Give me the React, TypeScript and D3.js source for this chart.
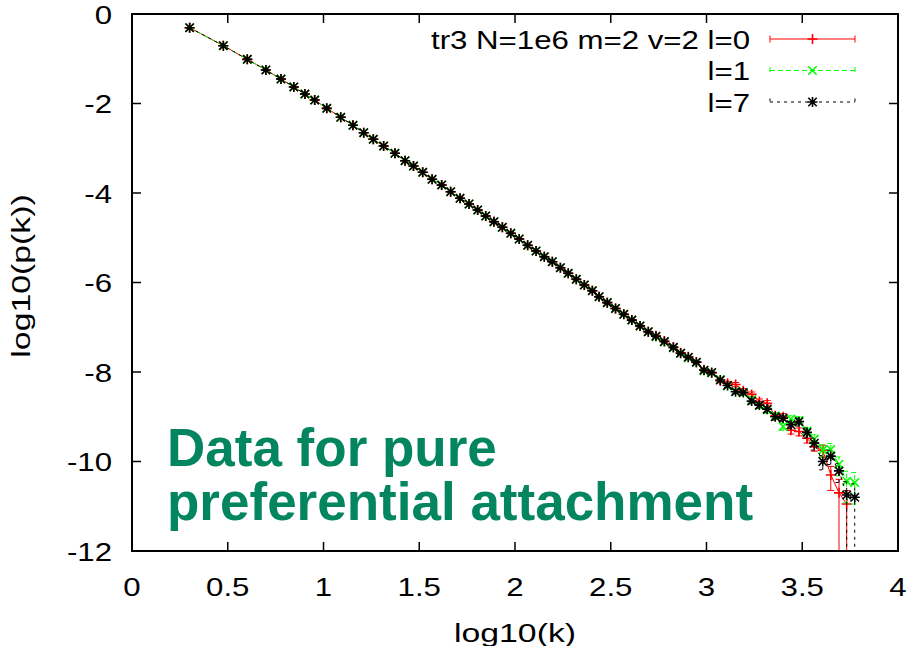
import React from "react";
import * as d3 from "d3";

// log10(k) positions of the binned points (shared by all three runs)
const logK = [
  0.301, 0.477, 0.602, 0.699, 0.778, 0.845, 0.903, 0.954, 1.017, 1.09,
  1.154, 1.21, 1.26, 1.314, 1.373, 1.426, 1.47, 1.518, 1.567, 1.617,
  1.664, 1.713, 1.76, 1.805, 1.847, 1.89, 1.934, 1.978, 2.022, 2.066,
  2.11, 2.153, 2.195, 2.237, 2.278, 2.32, 2.362, 2.404, 2.439, 2.482,
  2.525, 2.568, 2.61, 2.653, 2.696, 2.736, 2.78, 2.827, 2.865, 2.905,
  2.947, 2.987, 3.027, 3.072, 3.11, 3.152, 3.192, 3.236, 3.276, 3.317,
  3.359, 3.4, 3.441, 3.483, 3.525, 3.563, 3.607, 3.649, 3.692, 3.732,
  3.774,
];

// l=0 (red)
const pkL0: (number | null)[] = [
  -0.306, -0.708, -1.013, -1.251, -1.453, -1.631, -1.788, -1.922, -2.108, -2.308,
  -2.487, -2.652, -2.8, -2.95, -3.113, -3.278, -3.397, -3.537, -3.694, -3.821,
  -3.971, -4.118, -4.246, -4.38, -4.514, -4.641, -4.766, -4.901, -5.028, -5.169,
  -5.296, -5.423, -5.535, -5.669, -5.794, -5.929, -6.056, -6.183, -6.317, -6.45,
  -6.58, -6.71, -6.84, -6.97, -7.1, -7.19, -7.31, -7.44, -7.57, -7.66,
  -7.78, -7.95, -8.02, -8.2, -8.25, -8.28, -8.42, -8.5, -8.66, -8.7,
  -8.98, -9.0, -9.3, -9.33, -9.48, -9.67, -9.75, -10.3, -10.7, -10.95,
  null,
];
const errL0 = [
  0.002, 0.002, 0.003, 0.003, 0.004, 0.004, 0.005, 0.005, 0.006, 0.007,
  0.008, 0.009, 0.01, 0.011, 0.012, 0.013, 0.014, 0.015, 0.016, 0.017,
  0.018, 0.019, 0.02, 0.021, 0.022, 0.023, 0.024, 0.025, 0.026, 0.027,
  0.028, 0.029, 0.03, 0.031, 0.032, 0.033, 0.034, 0.035, 0.036, 0.037,
  0.038, 0.04, 0.042, 0.044, 0.046, 0.05, 0.055, 0.06, 0.065, 0.07,
  0.075, 0.08, 0.085, 0.09, 0.1, 0.11, 0.12, 0.13, 0.14, 0.15,
  0.16, 0.17, 0.18, 0.2, 0.22, 0.2, 0.3, 0.55, 1.0, 1.0,
  0,
];

// l=1 (green)
const pkL1: (number | null)[] = [
  -0.306, -0.708, -1.013, -1.251, -1.453, -1.631, -1.788, -1.922, -2.108, -2.308,
  -2.487, -2.652, -2.8, -2.95, -3.113, -3.278, -3.397, -3.537, -3.694, -3.821,
  -3.971, -4.118, -4.246, -4.38, -4.514, -4.641, -4.766, -4.901, -5.028, -5.169,
  -5.296, -5.423, -5.535, -5.669, -5.794, -5.929, -6.056, -6.183, -6.317, -6.45,
  -6.58, -6.71, -6.84, -6.97, -7.1, -7.21, -7.33, -7.46, -7.58, -7.68,
  -7.79, -7.97, -8.02, -8.17, -8.31, -8.43, -8.47, -8.62, -8.75, -8.85,
  -8.98, -9.22, -9.05, -9.08, -9.32, -9.5, -9.74, -9.73, -10.06, -10.44,
  -10.47,
];
const errL1 = [
  0.002, 0.002, 0.003, 0.003, 0.004, 0.004, 0.005, 0.005, 0.006, 0.007,
  0.008, 0.009, 0.01, 0.011, 0.012, 0.013, 0.014, 0.015, 0.016, 0.017,
  0.018, 0.019, 0.02, 0.021, 0.022, 0.023, 0.024, 0.025, 0.026, 0.027,
  0.028, 0.029, 0.03, 0.031, 0.032, 0.033, 0.034, 0.035, 0.036, 0.037,
  0.038, 0.04, 0.042, 0.044, 0.046, 0.05, 0.055, 0.06, 0.065, 0.07,
  0.075, 0.08, 0.085, 0.09, 0.1, 0.11, 0.12, 0.13, 0.14, 0.15,
  0.16, 0.17, 0.18, 0.2, 0.22, 0.25, 0.3, 0.35, 0.45, 0.67,
  0.67,
];

// l=7 (black)
const pkL7: (number | null)[] = [
  -0.306, -0.708, -1.013, -1.251, -1.453, -1.631, -1.788, -1.922, -2.108, -2.308,
  -2.487, -2.652, -2.8, -2.95, -3.113, -3.278, -3.397, -3.537, -3.694, -3.821,
  -3.971, -4.118, -4.246, -4.38, -4.514, -4.641, -4.766, -4.901, -5.028, -5.169,
  -5.296, -5.423, -5.535, -5.669, -5.794, -5.929, -6.056, -6.183, -6.317, -6.45,
  -6.58, -6.71, -6.84, -6.97, -7.1, -7.2, -7.32, -7.45, -7.58, -7.67,
  -7.78, -7.96, -8.01, -8.18, -8.3, -8.44, -8.46, -8.65, -8.74, -8.83,
  -9.0, -9.03, -9.18, -9.11, -9.35, -9.59, -10.0, -9.88, -10.21, -10.75,
  -10.8,
];
const errL7 = [
  0.002, 0.002, 0.003, 0.003, 0.004, 0.004, 0.005, 0.005, 0.006, 0.007,
  0.008, 0.009, 0.01, 0.011, 0.012, 0.013, 0.014, 0.015, 0.016, 0.017,
  0.018, 0.019, 0.02, 0.021, 0.022, 0.023, 0.024, 0.025, 0.026, 0.027,
  0.028, 0.029, 0.03, 0.031, 0.032, 0.033, 0.034, 0.035, 0.036, 0.037,
  0.038, 0.04, 0.042, 0.044, 0.046, 0.05, 0.055, 0.06, 0.065, 0.07,
  0.075, 0.08, 0.085, 0.09, 0.1, 0.11, 0.12, 0.13, 0.14, 0.15,
  0.16, 0.17, 0.18, 0.2, 0.25, 0.3, 0.35, 0.35, 0.45, 1.0,
  1.0,
];

const seriesNames = ["tr3 N=1e6 m=2 v=2 l=0", "l=1", "l=7"];
const xTicks = [0, 0.5, 1, 1.5, 2, 2.5, 3, 3.5, 4];
const yTicks = [0, -2, -4, -6, -8, -10, -12];
const xLabelText = "log10(k)";
const yLabelText = "log10(p(k))";
const noteLines = ["Data for pure", "preferential attachment"];

const W = 910;
const H = 646;
const L = 132, R = 898, T = 14, B = 551;
const FONT = "'Liberation Sans', Arial, Helvetica, sans-serif";
const FS = 26;
const SX = 1.2; // gnuplot's font is wider than Liberation Sans
const SXL = 1.3;

const x = d3.scaleLinear().domain([0, 4]).range([L, R]);
const y = d3.scaleLinear().domain([-12, 0]).range([B, T]);

type Style = { color: string; dash: string | undefined; marker: "plus" | "cross" | "star" };
const styles: Style[] = [
  { color: "#ff0000", dash: undefined, marker: "plus" },
  { color: "#00ff00", dash: "5,3", marker: "cross" },
  { color: "#000000", dash: "3,4", marker: "star" },
];
const seriesY = [pkL0, pkL1, pkL7];
const seriesErr = [errL0, errL1, errL7];

function Marker({ cx, cy, kind, color }: { cx: number; cy: number; kind: string; color: string }) {
  const s = 5;
  const d = 4.2;
  const parts: string[] = [];
  if (kind === "plus" || kind === "star") parts.push(`M${cx - s},${cy}H${cx + s}M${cx},${cy - s}V${cy + s}`);
  if (kind === "cross" || kind === "star") parts.push(`M${cx - d},${cy - d}L${cx + d},${cy + d}M${cx - d},${cy + d}L${cx + d},${cy - d}`);
  return <path d={parts.join("")} stroke={color} strokeWidth={1.6} fill="none" />;
}

function SText({ x0, y0, sx, anchor, children, rotate }: { x0: number; y0: number; sx: number; anchor: string; children: string; rotate?: number }) {
  return (
    <text
      transform={`translate(${x0},${y0})${rotate ? ` rotate(${rotate})` : ""} scale(${sx},1)`}
      textAnchor={anchor}
      fontSize={FS}
      fill="#000"
    >
      {children}
    </text>
  );
}

export default function App() {
  const line = d3
    .line<[number, number | null]>()
    .defined((d) => d[1] !== null)
    .x((d) => x(d[0]))
    .y((d) => y(d[1] as number));

  return (
    <svg width={W} height={H} style={{ position: "absolute", left: 0, top: 0, background: "#fff" }} fontFamily={FONT}>
      <defs>
        <clipPath id="plotclip">
          <rect x={L} y={T} width={R - L} height={B - T} />
        </clipPath>
      </defs>
      <rect x={0} y={0} width={W} height={H} fill="#fff" />

      {/* series */}
      <g clipPath="url(#plotclip)">
        {seriesY.map((ys, si) => {
          const st = styles[si];
          const errs = seriesErr[si];
          const pts: [number, number | null][] = logK.map((k, i) => [k, ys[i]]);
          return (
            <g key={si}>
              <path d={line(pts) || ""} stroke={st.color} strokeWidth={1} fill="none" strokeDasharray={st.dash} />
              {logK.map((k, i) => {
                const v = ys[i];
                if (v === null) return null;
                const r = errs[i];
                const hi = v + Math.log10(1 + r);
                const lo = r >= 1 ? -13 : v + Math.log10(1 - r);
                const px = x(k);
                const cw = 3.5;
                return (
                  <g key={i}>
                    <path
                      d={`M${px},${y(lo)}V${y(hi)}M${px - cw},${y(hi)}H${px + cw}` + (r >= 1 ? "" : `M${px - cw},${y(lo)}H${px + cw}`)}
                      stroke={st.color}
                      strokeWidth={1}
                      strokeDasharray={st.dash}
                      fill="none"
                    />
                    <Marker cx={px} cy={y(v)} kind={st.marker} color={st.color} />
                  </g>
                );
              })}
            </g>
          );
        })}
      </g>

      {/* border and ticks */}
      <rect x={L} y={T} width={R - L} height={B - T} fill="none" stroke="#000" strokeWidth={2} />
      {xTicks.map((t) => (
        <g key={"x" + t}>
          <line x1={x(t)} x2={x(t)} y1={B} y2={B - 9} stroke="#000" strokeWidth={1.5} />
          <line x1={x(t)} x2={x(t)} y1={T} y2={T + 9} stroke="#000" strokeWidth={1.5} />
          <SText x0={x(t)} y0={596} sx={SX} anchor="middle">{String(t)}</SText>
        </g>
      ))}
      {yTicks.map((t) => (
        <g key={"y" + t}>
          <line x1={L} x2={L + 9} y1={y(t)} y2={y(t)} stroke="#000" strokeWidth={1.5} />
          <line x1={R} x2={R - 9} y1={y(t)} y2={y(t)} stroke="#000" strokeWidth={1.5} />
          <SText x0={112} y0={y(t) + 9.5} sx={SX} anchor="end">{String(t)}</SText>
        </g>
      ))}

      {/* axis labels */}
      <SText x0={515} y0={642} sx={SXL} anchor="middle">{xLabelText}</SText>
      <SText x0={30} y0={276} sx={SXL} anchor="middle" rotate={-90}>{yLabelText}</SText>

      {/* legend */}
      {seriesNames.map((name, i) => {
        const st = styles[i];
        const ly = 39 + i * 31.5;
        const x1 = 770, x2 = 855;
        return (
          <g key={name}>
            <SText x0={750} y0={ly + 9.5} sx={SX} anchor="end">{name}</SText>
            <path
              d={`M${x1},${ly}H${x2}M${x1},${ly - 3.5}V${ly + 3.5}M${x2},${ly - 3.5}V${ly + 3.5}`}
              stroke={st.color}
              strokeWidth={1}
              strokeDasharray={st.dash}
              fill="none"
            />
            <Marker cx={(x1 + x2) / 2} cy={ly} kind={st.marker} color={st.color} />
          </g>
        );
      })}

      {/* annotation */}
      {noteLines.map((t, i) => (
        <text key={t} x={167} y={466 + i * 54} fontSize={53} fontWeight="bold" fill="#03855f">
          {t}
        </text>
      ))}
    </svg>
  );
}
